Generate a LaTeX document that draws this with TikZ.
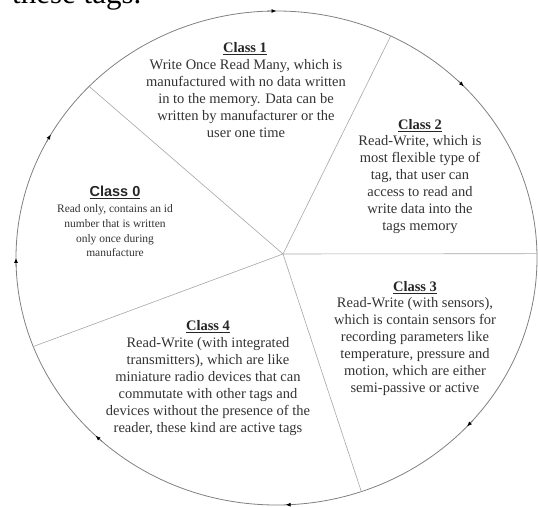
\documentclass[tikz,border=0pt]{standalone}
\usepackage{fontspec}
\setmainfont{Liberation Serif}
\newfontfamily\headsans{Liberation Sans}
\usetikzlibrary{arrows.meta}
\tikzset{
  rim/.style={draw=black!50, line width=0.8pt},
  divider/.style={draw=black!35, line width=0.6pt},
  rimarrow/.style={draw=black!50, line width=0.8pt, -{Latex[length=5pt,width=4pt,color=black]}},
  classhead/.style={anchor=base, inner sep=0pt, text=black!85, font=\fontsize{14.5}{17}\selectfont\bfseries},
  classtext/.style={align=center, inner sep=0pt, text=black!80, font=\fontsize{14.5}{17}\selectfont},
}
\begin{document}
\begin{tikzpicture}[x=1pt,y=1pt]
\useasboundingbox (0,0) rectangle (538,506);
\clip (0,0) rectangle (538,506);
\node[anchor=base west, inner sep=0pt, font=\fontsize{31}{36}\selectfont] (tail) at (12,502) {these tags.};
% the ring and its five slices
\coordinate (ctr) at (276.5,248);
\coordinate (mid) at (283,252);
\draw[rim] (ctr) ellipse [x radius=260.5, y radius=247];
\draw[divider] (mid) -- ([shift={(136:260.5 and 247)}]ctr);
\draw[divider] (mid) -- ([shift={(64:260.5 and 247)}]ctr);
\draw[divider] (mid) -- ([shift={(1:260.5 and 247)}]ctr);
\draw[divider] (mid) -- ([shift={(-71:260.5 and 247)}]ctr);
\draw[divider] (mid) -- ([shift={(-159:260.5 and 247)}]ctr);
% arrow marks, clockwise
\draw[rimarrow] ([shift={(92:260.5 and 247)}]ctr) arc[start angle=92, end angle=90, x radius=260.5, y radius=247];
\draw[rimarrow] ([shift={(46:260.5 and 247)}]ctr) arc[start angle=46, end angle=44, x radius=260.5, y radius=247];
\draw[rimarrow] ([shift={(-41:260.5 and 247)}]ctr) arc[start angle=-41, end angle=-43, x radius=260.5, y radius=247];
\draw[rimarrow] ([shift={(-86:260.5 and 247)}]ctr) arc[start angle=-86, end angle=-88, x radius=260.5, y radius=247];
\draw[rimarrow] ([shift={(-132:260.5 and 247)}]ctr) arc[start angle=-132, end angle=-134, x radius=260.5, y radius=247];
\draw[rimarrow] ([shift={(182:260.5 and 247)}]ctr) arc[start angle=182, end angle=180, x radius=260.5, y radius=247];
\draw[rimarrow] ([shift={(152:260.5 and 247)}]ctr) arc[start angle=152, end angle=150, x radius=260.5, y radius=247];
% class texts
\node[classhead] (head1) at (245,453) {\underline{Class 1}};
\node[classtext] (body1) at (246,407) {Write Once Read Many, which is\\
  manufactured with no data written\\ in to the memory. Data can be\\
  written by manufacturer or the\\ user one time};
\node[classhead] (head2) at (420,376) {\underline{Class 2}};
\node[classtext] (body2) at (420,321) {Read-Write, which is\\ most flexible type of\\
  tag, that user can\\ access to read and\\ write data into the\\ tags memory};
\node[classhead] (head3) at (415,214) {\underline{Class 3}};
\node[classtext] (body3) at (415,159) {Read-Write (with sensors),\\
  which is contain sensors for\\ recording parameters like\\
  temperature, pressure and\\ motion, which are either\\ semi-passive or active};
\node[classhead] (head4) at (208,175) {\underline{Class 4}};
\node[classtext] (body4) at (208,119) {Read-Write (with integrated\\
  transmitters), which are like\\ miniature radio devices that can\\
  commutate with other tags and\\ devices without the presence of the\\
  reader, these kind are active tags};
\node[classhead, font=\fontsize{14.5}{17}\headsans\bfseries] (head0) at (115,309) {\underline{Class 0}};
\node[classtext, font=\fontsize{11.5}{14.7}\selectfont] (body0) at (115,275) {Read only, contains an id\\
  number that is written\\ only once during\\ manufacture};
\end{tikzpicture}
\end{document}
